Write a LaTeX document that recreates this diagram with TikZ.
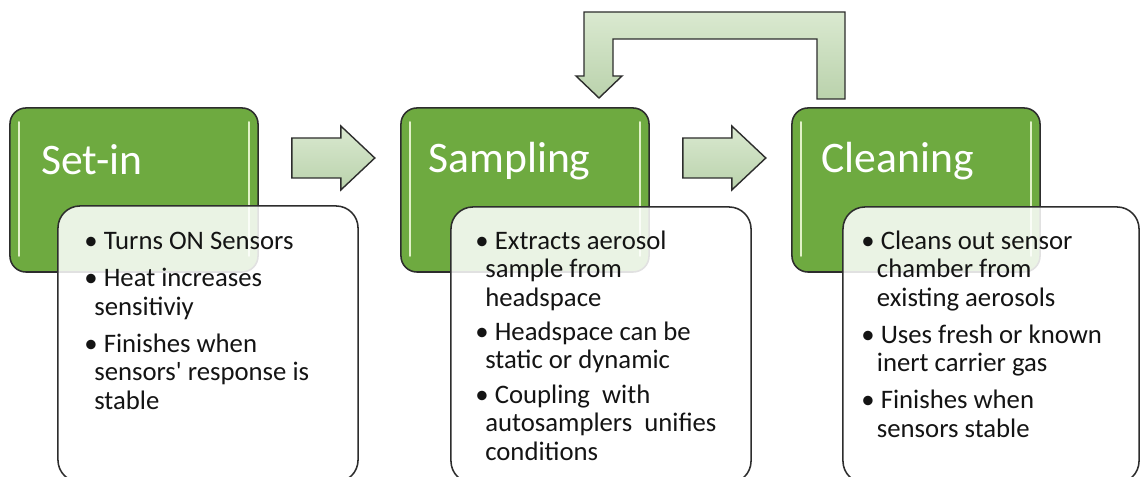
\documentclass[tikz,border=0pt]{standalone}
\usepackage{fontspec}
\setmainfont{Carlito}
\usepackage{xcolor}
\usepackage{tikz}
\usetikzlibrary{positioning,calc}

\definecolor{stagegreen}{RGB}{110,170,64}
\definecolor{glintgreen}{RGB}{226,242,200}
\definecolor{flowtop}{RGB}{218,233,208}
\definecolor{flowbot}{RGB}{186,210,172}
\definecolor{rim}{RGB}{45,45,45}

\tikzset{
  stage/.style={draw=rim, line width=1.1pt, fill=stagegreen, rounded corners=0.4cm,
    minimum width=6.2cm, minimum height=4.1cm, inner sep=0pt},
  stagetitle/.style={text=white, font=\fontsize{31}{34}\selectfont, anchor=base west, inner sep=0pt},
  notes/.style={draw=rim, line width=1.1pt, fill=white, fill opacity=0.86, rounded corners=0.55cm,
    minimum width=7.5cm, minimum height=6.9cm, anchor=north west, inner sep=0pt},
  items/.style={font=\fontsize{19}{20.3}\selectfont, text=black!92, align=left,
    anchor=north west, inner sep=0pt},
  flow/.style={draw=rim, line width=1pt, top color=flowtop, bottom color=flowbot, line join=miter},
  glint/.style={draw=glintgreen, line width=1.8pt, line cap=round}
}

\begin{document}
\begin{tikzpicture}[x=0.025cm, y=-0.025cm]
\useasboundingbox (0,0) rectangle (1140,477);
\clip (0,0) rectangle (1140,477);

% stages
\node[stage] (setin)    at (134,190) {};
\node[stage] (sampling) at (525,190) {};
\node[stage] (cleaning) at (916,190) {};

\foreach \s in {setin,sampling,cleaning} {
\draw[glint] ([shift={(10,15)}]\s.north west) -- ([shift={(10,-17)}]\s.south west);
\draw[glint] ([shift={(-10,15)}]\s.north east) -- ([shift={(-10,-17)}]\s.south east);
}

\node[stagetitle] (setin-title)    at ([shift={(32,67)}]setin.north west)    {Set-in};
\node[stagetitle] (sampling-title) at ([shift={(28,65)}]sampling.north west) {Sampling};
\node[stagetitle] (cleaning-title) at ([shift={(30,65)}]cleaning.north west) {Cleaning};

% note boxes
\node[notes] (setin-notes)    at ([shift={(48,98)}]setin.north west)    {};
\node[notes] (sampling-notes) at ([shift={(50,99)}]sampling.north west) {};
\node[notes, minimum width=7.4cm] (cleaning-notes) at ([shift={(51,99)}]cleaning.north west) {};

\node[items] (setin-items) at ([shift={(27,27)}]setin-notes.north west) {%
\textbullet\ Turns ON Sensors\\[6pt]
\textbullet\ Heat increases\\
\hspace*{7pt}sensitiviy\\[6pt]
\textbullet\ Finishes when\\
\hspace*{7pt}sensors\textquotesingle\ response is\\
\hspace*{7pt}stable};

\node[items] (sampling-items) at ([shift={(25,24)}]sampling-notes.north west) {%
\textbullet\ Extracts aerosol\\
\hspace*{7pt}sample from\\
\hspace*{7pt}headspace\\[4pt]
\textbullet\ Headspace can be\\
\hspace*{7pt}static or dynamic\\[4pt]
\textbullet\ Coupling\ \ with\\
\hspace*{7pt}autosamplers\ \ unifies\\
\hspace*{7pt}conditions};

\node[items] (cleaning-items) at ([shift={(19,24)}]cleaning-notes.north west) {%
\textbullet\ Cleans out sensor\\
\hspace*{11pt}chamber from\\
\hspace*{11pt}existing aerosols\\[6pt]
\textbullet\ Uses fresh or known\\
\hspace*{11pt}inert carrier gas\\[6pt]
\textbullet\ Finishes when\\
\hspace*{11pt}sensors stable};

% block arrows
\foreach \s in {setin,sampling}
\draw[flow] ([shift={(33,-52)}]\s.east) -- ++(49,0) -- ++(0,-12) -- ++(34,32)
  -- ++(-34,32) -- ++(0,-12) -- ++(-49,0) -- cycle;

% feedback arrow
\draw[flow] (584,12) -- (845,12) -- (845,99) -- (817,99) -- (817,39) -- (613,39)
  -- (613,76) -- (622,76) -- (599,98) -- (576,76) -- (584,76) -- cycle;
\end{tikzpicture}
\end{document}
